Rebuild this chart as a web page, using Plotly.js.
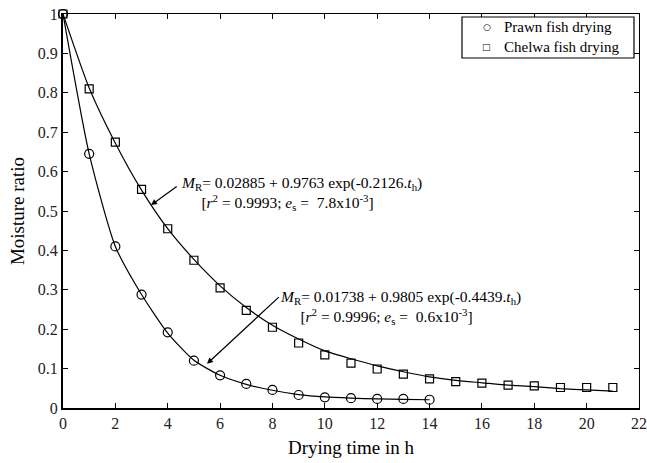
<!DOCTYPE html>
<html><head><meta charset="utf-8">
<script src="https://cdn.plot.ly/plotly-3.0.1.min.js"></script>
<style>body{margin:0;background:#fff}#c{width:647px;height:463px}</style>
</head><body><div id="c"></div>
<script>
const prawnT = [0,1,2,3,4,5,6,7,8,9,10,11,12,13,14];
const prawnMR = [1,0.645,0.41,0.288,0.192,0.12,0.083,0.061,0.046,0.033,0.027,0.025,0.023,0.023,0.021];
const prawnFit = [1,0.645,0.41,0.288,0.19,0.121,0.083,0.06,0.045,0.034,0.028,0.025,0.023,0.022,0.021];
const chelwaT = [0,1,2,3,4,5,6,7,8,9,10,11,12,13,14,15,16,17,18,19,20,21];
const chelwaMR = [1,0.81,0.675,0.555,0.455,0.375,0.305,0.248,0.205,0.165,0.135,0.114,0.099,0.086,0.074,0.067,0.063,0.058,0.056,0.052,0.052,0.052];
const chelwaFit = [1,0.812,0.672,0.553,0.455,0.377,0.31,0.255,0.21,0.175,0.145,0.125,0.107,0.092,0.079,0.07,0.064,0.058,0.054,0.049,0.046,0.043];
const xTicks = [0,2,4,6,8,10,12,14,16,18,20,22];
const yTicks = [0,0.1,0.2,0.3,0.4,0.5,0.6,0.7,0.8,0.9,1];
const yTickText = ['0','0.1','0.2','0.3','0.4','0.5','0.6','0.7','0.8','0.9','1'];
const seriesNames = ['Prawn fish drying','Chelwa fish drying'];
const legendSymbols = ['\u25CB','\u25A1'];

const font = 'Liberation Serif';
const traces = [
  {x: prawnT, y: prawnFit, mode:'lines', line:{color:'#000', width:1.2, shape:'spline', smoothing:0.6}, showlegend:false, hoverinfo:'skip'},
  {x: chelwaT, y: chelwaFit, mode:'lines', line:{color:'#000', width:1.2, shape:'spline', smoothing:0.6}, showlegend:false, hoverinfo:'skip'},
  {x: prawnT, y: prawnMR, mode:'markers', name:seriesNames[0], showlegend:false, cliponaxis:false,
   marker:{symbol:'circle-open', size:9, color:'#000', line:{width:1.2, color:'#000'}}},
  {x: chelwaT, y: chelwaMR, mode:'markers', name:seriesNames[1], showlegend:false, cliponaxis:false,
   marker:{symbol:'square-open', size:8, color:'#000', line:{width:1.2, color:'#000'}}},
  {x:[0], y:[0], xaxis:'x2', yaxis:'y2', mode:'markers', marker:{opacity:0}, showlegend:false, hoverinfo:'skip'}
];
const axBase = {ticks:'inside', ticklen:5, tickwidth:1, tickcolor:'#000', zeroline:false, showgrid:false,
  tickfont:{family:font, size:16, color:'#222'}};
const annFont = {family:font, size:15.5, color:'#000'};
const legFont = {family:font, size:15, color:'#000'};
const symFont = {family:'DejaVu Sans', size:9, color:'#000'};
const layout = {
  width:647, height:463, margin:{l:63, r:8, t:14, b:55},
  paper_bgcolor:'#fff', plot_bgcolor:'#fff',
  font:{family:font, color:'#000'},
  showlegend:false,
  xaxis: Object.assign({}, axBase, {range:[0,22], tickvals:xTicks, showline:true, linewidth:2, linecolor:'#000',
    title:{text:'Drying time in h', font:{family:font, size:19, color:'#000'}, standoff:9}}),
  yaxis: Object.assign({}, axBase, {range:[0,1], tickvals:yTicks, ticktext:yTickText, showline:true, linewidth:2, linecolor:'#000',
    title:{text:'Moisture ratio', font:{family:font, size:19, color:'#000'}, standoff:8}}),
  xaxis2: Object.assign({}, axBase, {range:[0,22], tickvals:xTicks, overlaying:'x', side:'top', showticklabels:false, showline:true, linewidth:1, linecolor:'#000', anchor:'y2'}),
  yaxis2: Object.assign({}, axBase, {range:[0,1], tickvals:yTicks, overlaying:'y', side:'right', showticklabels:false, showline:true, linewidth:1, linecolor:'#000', anchor:'x2'}),
  shapes:[
    {type:'rect', xref:'paper', yref:'paper', x0:0.6927, x1:0.9913, y0:0.8883, y1:0.9924,
     line:{color:'#000', width:1.2}, fillcolor:'#fff', layer:'above'}
  ],
  annotations:[
    {x:3.36, y:0.515, ax:4.4, ay:0.565, axref:'x', ayref:'y', xref:'x', yref:'y', text:'', showarrow:true,
     arrowhead:2, arrowsize:1, arrowwidth:1.2, arrowcolor:'#000'},
    {x:5.5, y:0.112, ax:8.3, ay:0.285, axref:'x', ayref:'y', xref:'x', yref:'y', text:'', showarrow:true,
     arrowhead:2, arrowsize:1, arrowwidth:1.2, arrowcolor:'#000'},
    {x:4.43, y:0.544, xref:'x', yref:'y', xanchor:'left', yanchor:'middle', showarrow:false, align:'left',
     font:annFont,
     text:'<i>M</i><sub>R</sub>= 0.02885 + 0.9763 exp(-0.2126.<i>t</i><sub>h</sub>)<br>     [<i>r</i><sup>2</sup> = 0.9993; <i>e</i><sub>s</sub> =  7.8x10<sup>-3</sup>]'},
    {x:8.2, y:0.256, xref:'x', yref:'y', xanchor:'left', yanchor:'middle', showarrow:false, align:'left',
     font:annFont,
     text:'<i>M</i><sub>R</sub>= 0.01738 + 0.9805 exp(-0.4439.<i>t</i><sub>h</sub>)<br>     [<i>r</i><sup>2</sup> = 0.9996; <i>e</i><sub>s</sub> =  0.6x10<sup>-3</sup>]'},
    {x:0.7622, y:0.967, xref:'paper', yref:'paper', xanchor:'left', yanchor:'middle', showarrow:false, font:legFont, text:seriesNames[0]},
    {x:0.7622, y:0.9162, xref:'paper', yref:'paper', xanchor:'left', yanchor:'middle', showarrow:false, font:legFont, text:seriesNames[1]},
    {x:0.7361, y:0.967, xref:'paper', yref:'paper', xanchor:'center', yanchor:'middle', showarrow:false, font:symFont, text:legendSymbols[0]},
    {x:0.7361, y:0.9162, xref:'paper', yref:'paper', xanchor:'center', yanchor:'middle', showarrow:false, font:symFont, text:legendSymbols[1]}
  ]
};
Plotly.newPlot('c', traces, layout, {displayModeBar:false, staticPlot:true});
</script></body></html>
